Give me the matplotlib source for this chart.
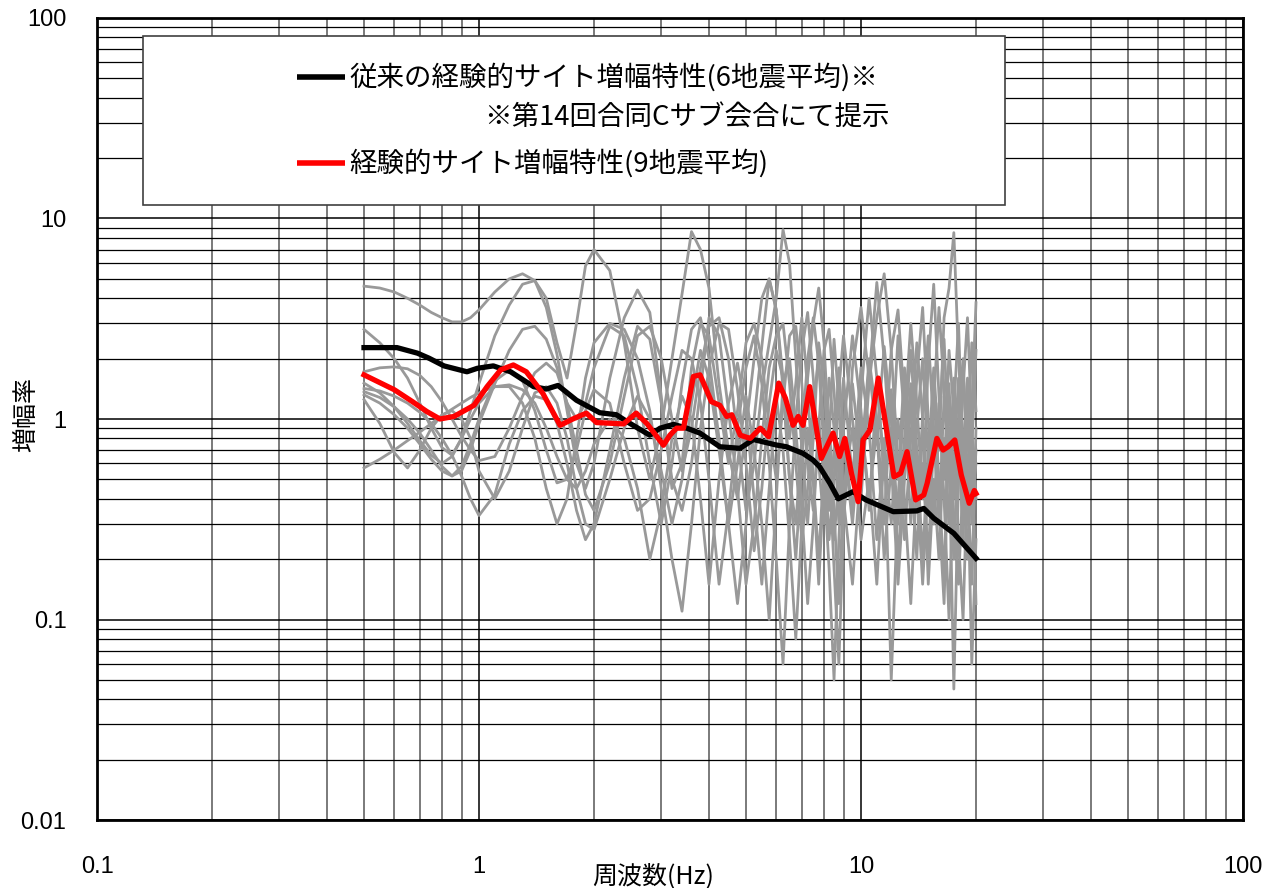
import matplotlib.pyplot as plt
from matplotlib.patches import Rectangle

plt.rcParams['font.family'] = ['Noto Sans CJK JP', 'DejaVu Sans']

# frequency grid shared by the individual earthquakes (Hz)
freq = [0.5, 0.55, 0.6, 0.65, 0.7, 0.75, 0.8, 0.85, 0.9, 0.95, 1.0, 1.1, 1.2, 1.3, 1.4, 1.5,
        1.6, 1.7, 1.8, 1.9, 2.0, 2.2, 2.4, 2.6, 2.8, 3.0, 3.2, 3.4, 3.6, 3.8, 4.0, 4.25, 4.5,
        4.75, 5.0, 5.25, 5.5, 5.75, 6.0, 6.25, 6.5, 6.75, 7.0, 7.25, 7.5, 7.75, 8.0, 8.25, 8.5,
        8.75, 9.0, 9.5, 10, 10.5, 11, 11.5, 12, 12.5, 13, 13.5, 14, 14.5, 15, 15.5, 16, 16.5,
        17, 17.5, 18, 18.5, 19, 19.5, 20]

# individual earthquakes (gray)
eq1 = [4.6, 4.5, 4.3, 4.0, 3.7, 3.4, 3.2, 3.05, 3.05, 3.2, 3.5, 4.3, 5.0, 5.3, 4.9, 3.6,
       2.1, 1.1, 0.6, 0.45, 0.6, 1.6, 3.2, 4.4, 3.4, 1.3, 0.45, 0.6, 1.8, 3.0, 2.6, 1.2, 0.6,
       1.1, 2.4, 3.0, 2.0, 0.9, 0.5, 1.2, 2.6, 2.9, 1.5, 0.6, 0.35, 0.9, 2.2, 2.8, 1.4,
       0.5, 0.3, 1.8, 3.6, 1.6, 4.8, 2.0, 0.6, 2.6, 1.0, 3.0, 1.2, 0.4, 1.9, 4.7, 1.3, 0.5,
       2.2, 1.1, 3.0, 0.6, 1.6, 0.7, 2.2]
eq2 = [2.8, 2.4, 2.0, 1.6, 1.2, 0.9, 0.72, 0.66, 0.8, 1.1, 1.5, 2.6, 3.7, 4.7, 4.9, 4.0,
       2.4, 1.6, 3.0, 5.8, 7.0, 5.5, 2.4, 0.9, 0.5, 0.9, 2.0, 4.2, 8.6, 7.0, 4.5, 1.5, 0.7,
       0.4, 0.9, 2.0, 4.0, 5.0, 3.5, 1.4, 0.5, 0.3, 0.8, 2.0, 3.2, 1.9, 0.7, 0.25, 0.5,
       1.4, 2.6, 1.0, 0.4, 1.5, 3.2, 5.3, 2.2, 0.6, 0.25, 0.8, 2.4, 1.0, 0.35, 1.2, 3.6, 1.4,
       0.5, 1.6, 0.6, 1.8, 0.7, 2.4, 1.1]
eq3 = [1.72, 1.8, 1.82, 1.78, 1.65, 1.45, 1.22, 1.0, 0.82, 0.7, 0.62, 0.65, 0.9, 1.3, 1.7, 1.9,
       1.7, 1.2, 0.7, 0.42, 0.35, 0.6, 1.3, 2.6, 2.9, 2.0, 1.0, 0.55, 0.9, 1.8, 2.9, 3.2, 2.0,
       0.8, 0.35, 0.6, 1.4, 2.4, 4.0, 8.8, 6.0, 2.0, 0.7, 0.3, 0.8, 2.4, 1.5, 0.6, 0.18,
       0.06, 0.3, 1.5, 0.6, 2.0, 1.0, 0.3, 1.4, 0.5, 1.8, 0.6, 0.2, 1.1, 2.6, 0.9, 0.3, 1.3,
       0.6, 0.2, 1.0, 2.0, 0.5, 0.15, 0.9]
eq4 = [1.51, 1.35, 1.15, 0.95, 0.78, 0.66, 0.6, 0.65, 0.8, 1.0, 1.2, 1.45, 1.45, 1.2, 0.8, 0.45,
       0.3, 0.4, 0.8, 1.6, 2.4, 3.0, 2.8, 2.0, 1.1, 0.45, 0.2, 0.11, 0.3, 0.9, 1.8, 3.0, 2.8,
       1.4, 0.6, 0.22, 0.45, 1.2, 2.2, 1.6, 0.5, 0.2, 0.6, 1.6, 3.0, 4.5, 2.4, 0.8, 0.25,
       0.5, 1.6, 0.5, 1.8, 0.9, 0.25, 0.8, 0.05, 0.4, 1.3, 0.5, 1.6, 3.6, 1.0, 0.3, 0.9, 2.5,
       0.7, 0.045, 0.5, 1.4, 3.2, 0.9, 0.4]
eq5 = [1.37, 1.28, 1.15, 1.0, 0.85, 0.7, 0.58, 0.52, 0.55, 0.7, 0.95, 1.5, 2.2, 2.8, 2.9, 2.5,
       1.8, 1.2, 1.0, 1.2, 1.8, 2.9, 2.6, 1.4, 0.6, 0.3, 0.6, 1.5, 2.8, 3.2, 2.0, 0.8, 0.3,
       0.12, 0.3, 1.0, 2.3, 5.0, 3.5, 1.6, 0.8, 1.5, 3.2, 1.4, 0.5, 0.2, 0.6, 1.6, 0.9,
       0.3, 0.9, 2.6, 1.1, 0.35, 1.5, 0.6, 2.2, 3.5, 1.2, 0.3, 0.9, 2.0, 0.6, 1.8, 0.7, 3.2,
       4.5, 8.5, 2.0, 0.8, 0.3, 1.1, 3.8]
eq6 = [1.32, 1.2, 1.05, 0.9, 0.75, 0.63, 0.55, 0.52, 0.58, 0.75, 1.0, 1.55, 1.75, 1.55, 1.1, 0.7,
       0.48, 0.5, 0.7, 1.1, 1.4, 1.2, 0.6, 0.35, 0.4, 0.7, 1.3, 2.2, 2.0, 1.2, 0.5, 0.15, 0.35,
       0.9, 1.8, 2.6, 1.5, 0.6, 0.2, 0.06, 0.3, 1.0, 2.2, 3.4, 1.6, 0.6, 0.3, 0.8, 2.5,
       1.2, 0.4, 0.15, 0.6, 1.8, 0.8, 2.3, 1.0, 0.3, 0.8, 2.2, 0.7, 0.2, 0.7, 0.3, 1.2, 0.4,
       0.1, 0.6, 1.6, 0.4, 1.0, 0.3, 0.7]
eq7 = [0.57, 0.63, 0.7, 0.78, 0.86, 0.95, 1.04, 1.12, 1.2, 1.28, 1.35, 1.45, 1.48, 1.4, 1.2, 0.9,
       0.65, 0.5, 0.45, 0.55, 0.75, 1.0, 0.8, 0.45, 0.2, 0.35, 0.8, 1.3, 1.0, 0.4, 0.15, 0.5, 1.2,
       1.9, 1.1, 0.4, 0.15, 0.45, 1.3, 0.7, 0.25, 0.08, 0.3, 0.9, 0.5, 0.15, 0.5, 1.0, 0.35,
       0.12, 0.45, 0.9, 0.25, 0.5, 0.15, 0.7, 0.3, 1.0, 0.4, 0.12, 0.5, 0.9, 0.15, 0.5, 0.2, 0.8,
       0.3, 1.2, 0.25, 0.1, 0.55, 0.06, 0.25]
eq8 = [1.25, 0.95, 0.68, 0.57, 0.7, 0.9, 1.05, 1.1, 1.0, 0.8, 0.55, 0.4, 0.55, 0.9, 1.35, 1.45,
       1.2, 0.8, 0.45, 0.3, 0.28, 0.5, 0.9, 1.3, 1.0, 0.55, 0.3, 0.5, 1.2, 2.2, 1.6, 0.7, 0.3,
       0.6, 1.3, 0.7, 0.3, 0.1, 0.4, 1.5, 2.0, 0.9, 0.35, 0.12, 0.3, 1.0, 0.5, 0.18, 0.05,
       0.25, 0.8, 0.3, 1.0, 0.4, 0.9, 0.2, 0.6, 0.15, 0.5, 1.2, 0.35, 0.6, 0.2, 0.8, 0.35, 0.12,
       0.9, 0.3, 0.15, 0.5, 0.2, 0.7, 0.12]
eq9 = [1.42, 1.38, 1.3, 1.2, 1.08, 0.95, 0.8, 0.66, 0.52, 0.4, 0.33, 0.42, 0.75, 1.1, 1.3, 1.25,
       0.95, 0.6, 0.35, 0.25, 0.3, 0.7, 1.6, 2.9, 2.5, 1.2, 0.5, 0.35, 0.6, 1.4, 3.2, 2.6, 1.1,
       0.45, 0.15, 0.3, 0.8, 1.8, 2.6, 3.0, 1.5, 0.6, 0.25, 0.45, 1.2, 2.0, 0.9, 0.35, 0.7,
       1.8, 0.8, 0.35, 1.3, 4.0, 1.6, 0.5, 0.9, 0.2, 0.6, 1.5, 0.5, 0.15, 0.5, 1.4, 0.5, 0.15,
       1.5, 0.4, 0.8, 0.25, 1.2, 0.4, 0.6]
gray_curves = [eq1, eq2, eq3, eq4, eq5, eq6, eq7, eq8, eq9]

# previous empirical site amplification (6 earthquakes)
blk_f = [0.5, 0.61, 0.69, 0.74, 0.81, 0.93, 0.99, 1.09, 1.21, 1.39, 1.5, 1.61, 1.8, 2.07, 2.29,
         2.44, 2.8, 2.98, 3.23, 3.5, 3.79, 4.27, 4.82, 5.23, 6.0, 6.38, 7.05, 7.49, 7.79, 8.29,
         8.72, 9.53, 10.3, 12.15, 14.0, 14.6, 15.5, 17.5, 20.0]
blk_v = [2.27, 2.27, 2.13, 2.01, 1.84, 1.72, 1.79, 1.84, 1.72, 1.45, 1.41, 1.47, 1.24, 1.075, 1.05,
         0.97, 0.83, 0.90, 0.94, 0.90, 0.85, 0.727, 0.714, 0.79, 0.742, 0.727, 0.674, 0.624, 0.578,
         0.478, 0.40, 0.434, 0.395, 0.345, 0.348, 0.358, 0.32, 0.269, 0.202]

# empirical site amplification (9 earthquakes)
red_f = [0.5, 0.6, 0.67, 0.73, 0.79, 0.86, 0.97, 1.05, 1.14, 1.23, 1.33, 1.47, 1.63, 1.76, 1.91,
         2.03, 2.39, 2.58, 2.75, 3.04, 3.16, 3.29, 3.43, 3.64, 3.79, 4.06, 4.27, 4.45, 4.59, 4.83,
         5.13, 5.45, 5.73, 6.09, 6.34, 6.64, 6.85, 7.05, 7.34, 7.87, 8.45, 8.79, 9.07, 9.44, 9.83,
         10.13, 10.55, 11.1, 11.7, 12.2, 12.7, 13.2, 13.9, 14.6, 14.9, 15.8, 16.4, 16.9, 17.6,
         18.3, 19.2, 19.8, 20.0]
red_v = [1.66, 1.40, 1.22, 1.09, 1.0, 1.03, 1.17, 1.45, 1.76, 1.86, 1.72, 1.34, 0.93, 1.0, 1.07,
         0.96, 0.945, 1.07, 0.95, 0.74, 0.83, 0.90, 0.90, 1.63, 1.66, 1.22, 1.17, 1.03, 1.05, 0.83,
         0.80, 0.90, 0.816, 1.51, 1.27, 0.93, 1.03, 0.93, 1.45, 0.636, 0.85, 0.65, 0.80, 0.536, 0.387,
         0.786, 0.88, 1.60, 0.85, 0.515, 0.536, 0.687, 0.395, 0.418, 0.478, 0.80, 0.70, 0.727, 0.786,
         0.526, 0.38, 0.44, 0.425]

legend_lines = ['従来の経験的サイト増幅特性(6地震平均)※', '※第14回合同Cサブ会合にて提示',
                '経験的サイト増幅特性(9地震平均)']

W, H = 1268, 888
fig = plt.figure(figsize=(W / 100, H / 100), dpi=100)
ax = fig.add_axes([97 / W, 68 / H, 1146 / W, 802 / H])
ax.set_xscale('log')
ax.set_yscale('log')
ax.set_xlim(0.1, 100)
ax.set_ylim(0.01, 100)

for v in gray_curves:
    ax.plot(freq, v, color='#999999', lw=2, zorder=2, solid_joinstyle='round')
ax.plot(blk_f, blk_v, color='black', lw=3.8, zorder=3, solid_joinstyle='round')
ax.plot(red_f, red_v, color='#ff0000', lw=3.8, zorder=4, solid_joinstyle='round')

ax.set_axisbelow(True)
ax.grid(which='major', axis='both', color='black', lw=1.1)
ax.grid(which='minor', axis='y', color='black', lw=0.9)
ax.grid(which='minor', axis='x', color='#707070', lw=1.3)

ax.set_xticks([0.1, 1, 10, 100], labels=['0.1', '1', '10', '100'])
ax.set_yticks([0.01, 0.1, 1, 10, 100], labels=['0.01', '0.1', '1', '10', '100'])
ax.tick_params(which='both', length=0)
ax.tick_params(axis='x', pad=26)
ax.tick_params(axis='y', pad=22)
for lab in ax.get_xticklabels() + ax.get_yticklabels():
    lab.set_fontfamily('Liberation Sans')
    lab.set_fontsize(17)
for s in ax.spines.values():
    s.set_linewidth(2)
    s.set_zorder(6)

fig.text(653 / W, 1 - 876 / H, '周波数(Hz)', ha='center', va='center', fontsize=18)
fig.text(26 / W, 1 - 414 / H, '増幅率', ha='center', va='center', fontsize=18, rotation=90)

# legend box
def ax_x(px):
    return (px - 97) / 1146

def ax_y(py):
    return (820 - py) / 802

ax.add_patch(Rectangle((ax_x(143), ax_y(205)), ax_x(1005) - ax_x(143), ax_y(36) - ax_y(205),
                       transform=ax.transAxes, facecolor='white', edgecolor='#404040',
                       lw=1.2, zorder=7))
ax.plot([ax_x(297), ax_x(345)], [ax_y(77), ax_y(77)], transform=ax.transAxes,
        color='black', lw=4, zorder=8, solid_capstyle='butt')
ax.plot([ax_x(297), ax_x(345)], [ax_y(163), ax_y(163)], transform=ax.transAxes,
        color='#ff0000', lw=4, zorder=8, solid_capstyle='butt')
ax.text(ax_x(349), ax_y(77), legend_lines[0], transform=ax.transAxes, va='center',
        fontsize=19.8, zorder=9)
ax.text(ax_x(484), ax_y(118), legend_lines[1], transform=ax.transAxes, va='center',
        fontsize=19.8, zorder=9)
ax.text(ax_x(349), ax_y(163), legend_lines[2], transform=ax.transAxes, va='center',
        fontsize=19.8, zorder=9)

fig.savefig('out.png', dpi=100)
